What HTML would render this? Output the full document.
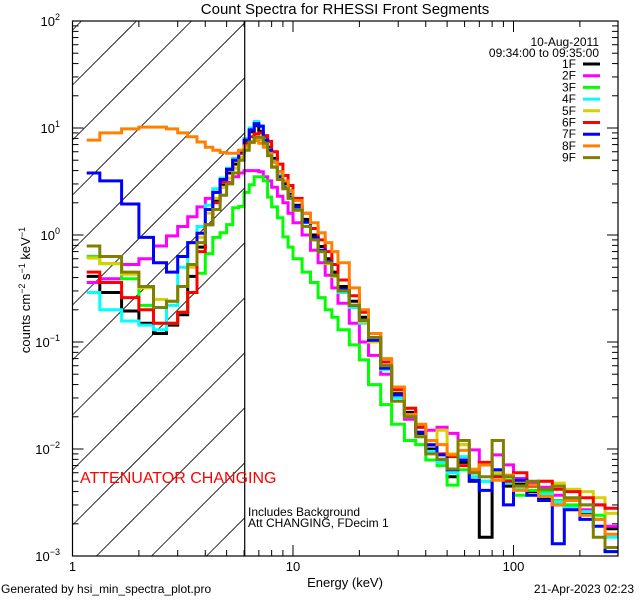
<!DOCTYPE html>
<html><head><meta charset="utf-8"><style>
html,body{margin:0;padding:0;background:#fff;width:640px;height:600px;overflow:hidden;}
svg{display:block;font-family:"Liberation Sans",sans-serif;overflow:hidden;}
</style></head><body>
<svg id="chart" width="640" height="600" viewBox="0 0 640 600" xmlns="http://www.w3.org/2000/svg">
<rect width="640" height="600" fill="#fff"/>
<defs><clipPath id="plotclip"><rect x="72.5" y="21" width="545.5" height="535"/></clipPath></defs>
<text x="345" y="14" font-size="15" text-anchor="middle">Count Spectra for RHESSI Front Segments</text>
<g id="hatch"></g>
<g id="series" clip-path="url(#plotclip)"></g>
<g id="axes"></g>
<text transform="translate(30,290) rotate(-90)" font-size="13" text-anchor="middle">counts cm<tspan font-size="9" dy="-5">−2</tspan><tspan dy="5"> s</tspan><tspan font-size="9" dy="-5">−1</tspan><tspan dy="5"> keV</tspan><tspan font-size="9" dy="-5">−1</tspan></text>
<text x="345" y="587" font-size="13" text-anchor="middle">Energy (keV)</text>
<text x="80" y="483" font-size="16" fill="#f00">ATTENUATOR CHANGING</text>
<text x="248" y="516" font-size="12">Includes Background</text>
<text x="248" y="527" font-size="12">Att CHANGING, FDecim  1</text>
<text x="1" y="593" font-size="12">Generated by hsi_min_spectra_plot.pro</text>
<text x="634" y="593" font-size="12" text-anchor="end">21-Apr-2023 02:23</text>
<text x="599" y="46" font-size="12" text-anchor="end">10-Aug-2011</text>
<text x="599" y="57" font-size="12" text-anchor="end">09:34:00 to 09:35:00</text>
<g id="legend"></g>
</svg>
<script>
const edges=[1.16,1.33,1.67,2,2.33,2.67,3,3.33,3.67,4,4.33,4.67,5,5.33,5.67,6,6.33,6.67,7,7.33,7.67,8,8.5,9,9.5,10,11,12,13,14,15,16,18,20,22,25,28,32,36,40,45,50,56,63,70,80,90,100,115,130,150,170,200,230,260,300];
const seriesNames=["1F","2F","3F","4F","5F","6F","7F","8F","9F"];
const s1F=[0.41,0.29,0.195,0.15,0.12,0.144,0.18,0.41,0.77,1.25,2.1,2.9,3.8,4.6,5.8,7.3,9.2,10.5,9.3,8.0,6.6,5.2,3.9,3.0,2.4,1.9,1.4,1.0,0.78,0.6,0.45,0.33,0.24,0.17,0.11,0.06,0.033,0.022,0.014,0.01,0.008,0.0055,0.0075,0.005,0.0015,0.006,0.0045,0.0048,0.004,0.0035,0.003,0.0028,0.0025,0.0022,0.0018];
const s2F=[0.36,0.39,0.53,0.6,0.79,0.98,1.2,1.48,1.83,2.2,2.5,2.8,3.1,3.5,3.8,4.0,4.0,4.0,3.9,3.5,3.2,2.8,2.3,2.0,1.6,1.3,1.0,0.72,0.55,0.42,0.32,0.23,0.15,0.1,0.075,0.05,0.032,0.019,0.016,0.015,0.016,0.014,0.011,0.0098,0.0071,0.0088,0.0071,0.0053,0.0048,0.0044,0.0037,0.0033,0.0027,0.003,0.0019];
const s3F=[0.63,0.54,0.39,0.22,0.15,0.15,0.19,0.29,0.44,0.67,0.95,1.05,1.25,1.8,1.85,2.5,2.95,3.5,3.5,3.2,2.26,1.83,1.45,0.96,0.77,0.6,0.45,0.36,0.26,0.2,0.17,0.13,0.094,0.068,0.04,0.026,0.017,0.012,0.011,0.0079,0.007,0.0046,0.0064,0.0055,0.005,0.0058,0.0051,0.0037,0.0041,0.004,0.0033,0.003,0.003,0.0024,0.0011];
const s4F=[0.29,0.2,0.157,0.144,0.13,0.22,0.5,0.85,1.2,1.9,2.7,3.4,4.2,5.2,6.2,8,10,11.5,10.5,7.9,6.3,4.9,3.6,2.8,2.3,1.8,1.3,0.92,0.7,0.55,0.41,0.29,0.21,0.15,0.1,0.055,0.03,0.02,0.013,0.0095,0.0075,0.006,0.0085,0.0055,0.005,0.006,0.0048,0.0042,0.0045,0.0038,0.0032,0.0028,0.0026,0.0022,0.0015];
const s5F=[0.61,0.54,0.43,0.32,0.25,0.24,0.33,0.5,0.95,1.6,2.2,2.8,3.4,4.2,5.3,6.5,7.5,8.0,7.8,7.0,5.6,4.4,3.4,2.7,2.2,1.7,1.2,0.9,0.7,0.54,0.41,0.3,0.22,0.155,0.1,0.058,0.035,0.024,0.016,0.012,0.015,0.009,0.011,0.0065,0.0075,0.006,0.0055,0.005,0.0045,0.005,0.0048,0.0042,0.004,0.0035,0.0025];
const s6F=[0.45,0.36,0.26,0.2,0.15,0.15,0.19,0.29,0.7,1.25,2.0,3.1,4.1,5.0,5.8,7.2,8.3,8.8,9.0,8.5,7.5,6.0,4.6,3.6,2.9,2.2,1.6,1.15,0.9,0.7,0.53,0.38,0.27,0.19,0.12,0.065,0.036,0.024,0.016,0.011,0.009,0.0085,0.007,0.006,0.0075,0.0055,0.005,0.006,0.0045,0.005,0.0042,0.004,0.0035,0.003,0.0028];
const s7F=[3.8,3.2,1.95,0.95,0.55,0.45,0.63,0.85,1.04,1.73,2.5,3.3,4.1,5.0,6.0,7.7,9.6,11,10.4,7.7,6.2,4.8,3.5,2.75,2.26,1.83,1.32,0.94,0.72,0.56,0.42,0.31,0.22,0.16,0.104,0.057,0.032,0.021,0.0144,0.0109,0.0088,0.0064,0.0079,0.0051,0.0041,0.0064,0.003,0.0051,0.0037,0.0033,0.0013,0.0027,0.0022,0.0019,0.0011];
const s8F=[7.7,9.0,9.8,10.2,10.2,9.8,9.0,8.3,7.4,6.6,6.2,5.9,5.8,5.8,6.2,6.8,7.3,7.6,7.2,6.6,5.8,4.8,3.9,3.2,2.6,2.1,1.6,1.3,1.05,0.85,0.7,0.55,0.32,0.2,0.12,0.07,0.038,0.021,0.017,0.012,0.011,0.0088,0.0097,0.0064,0.0071,0.0051,0.0057,0.0041,0.0046,0.0036,0.003,0.0033,0.0024,0.0022,0.0016];
const s9F=[0.79,0.63,0.45,0.33,0.21,0.24,0.33,0.53,0.85,1.25,1.73,2.35,3.0,3.8,5.0,6.2,7.4,8.2,8.2,7.2,5.5,4.3,3.3,2.7,2.2,1.7,1.2,0.9,0.7,0.55,0.42,0.3,0.22,0.16,0.11,0.06,0.028,0.02,0.013,0.009,0.008,0.0065,0.012,0.006,0.0055,0.012,0.0055,0.0045,0.005,0.0042,0.0045,0.0035,0.003,0.0015,0.0012];
const seriesValues=[s1F,s2F,s3F,s4F,s5F,s6F,s7F,s8F,s9F];
const seriesColors=["#000000","#ff00ff","#00ff00","#00ffff","#d8d000","#ff0000","#0000ff","#ff8000","#808000"];
const xTickLabels=["1","10","100"];
const yTickExps=["2","1","0","−1","−2","−3"];
const attenuatorEnergy=6.04;

const NS="http://www.w3.org/2000/svg";
const X0=72.5,X1=618,Y0=21,Y1=556;
const XDEC=220.5,YDEC=107;
function xs(e){return X0+XDEC*Math.log10(e);}
function ys(v){return Y0+(2-Math.log10(v))*YDEC;}
function mk(tag,attrs,parent){const el=document.createElementNS(NS,tag);for(const k in attrs)el.setAttribute(k,attrs[k]);parent.appendChild(el);return el;}

const hatch=document.getElementById('hatch');
const XA=xs(attenuatorEnergy);
for(let k=-4;k<14;k++){const y0=85+55*k;
 const xa=Math.max(X0,X0+y0-Y1), xb=Math.min(XA,X0+y0-Y0);
 if(xa>=xb) continue;
 const ln=mk('line',{x1:xa,y1:y0-(xa-X0),x2:xb,y2:y0-(xb-X0),stroke:'#000','stroke-width':0.8},hatch);
 
 }

const sg=document.getElementById('series');
seriesValues.forEach((vals,si)=>{
 let d='';
 for(let i=0;i<vals.length;i++){
  const xa=xs(edges[i]),xb=Math.min(xs(edges[i+1]),X1),y=ys(vals[i]);
  d+=(i===0?'M':'L')+xa.toFixed(1)+','+y.toFixed(1)+'L'+xb.toFixed(1)+','+y.toFixed(1);
 }
 const p=mk('path',{d:d,fill:'none',stroke:seriesColors[si],'stroke-width':3,'stroke-linejoin':'miter'},sg);
 
 
});

const ag=document.getElementById('axes');
const box=mk('rect',{x:X0,y:Y0,width:X1-X0,height:Y1-Y0,fill:'none',stroke:'#000','stroke-width':1.2},ag);


const att=mk('line',{x1:XA,y1:Y0,x2:XA,y2:Y1,stroke:'#000','stroke-width':1.2},ag);


for(let dec=0;dec<3;dec++){
 for(let m=1;m<10;m++){const e=m*Math.pow(10,dec);const x=xs(e);if(x>X1)continue;
  const L=m===1?11:6;
  mk('line',{x1:x,y1:Y1,x2:x,y2:Y1-L,stroke:'#000','stroke-width':1},ag);
  mk('line',{x1:x,y1:Y0,x2:x,y2:Y0+L,stroke:'#000','stroke-width':1},ag);}
 const t=mk('text',{x:xs(Math.pow(10,dec)),y:571,'font-size':13,'text-anchor':'middle'},ag);
 t.textContent=xTickLabels[dec];
 
 
}
for(let p=-3;p<=2;p++){
 for(let m=1;m<10;m++){if(p===2&&m>1)continue;const y=ys(m*Math.pow(10,p));
  const L=m===1?11:6;
  mk('line',{x1:X0,y1:y,x2:X0+L,y2:y,stroke:'#000','stroke-width':1},ag);
  mk('line',{x1:X1,y1:y,x2:X1-L,y2:y,stroke:'#000','stroke-width':1},ag);}
 const t=mk('text',{x:60,y:ys(Math.pow(10,p))+5,'font-size':13,'text-anchor':'end'},ag);
 t.textContent='10';
 const sp=mk('tspan',{'font-size':9,dy:-6},t);sp.textContent=yTickExps[2-p];
 
 
}
const lg=document.getElementById('legend');
seriesNames.forEach((n,i)=>{const y=64+11.7*i;
 const t=mk('text',{x:576,y:y+4,'font-size':12,'text-anchor':'end'},lg);t.textContent=n;
 
 
 const l=mk('line',{x1:583,y1:y,x2:600,y2:y,stroke:seriesColors[i],'stroke-width':3},lg);
 
 });
</script>
</body></html>
